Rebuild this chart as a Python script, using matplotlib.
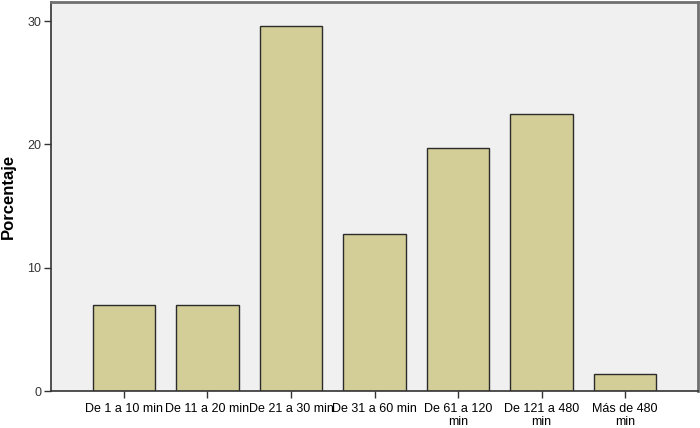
import matplotlib
matplotlib.use("Agg")
import matplotlib.pyplot as plt

# Data
categories = ["De 1 a 10 min", "De 11 a 20 min", "De 21 a 30 min", "De 31 a 60 min",
              "De 61 a 120\nmin", "De 121 a 480\nmin", "Más de 480\nmin"]
porcentaje = [7.0, 7.0, 29.6, 12.7, 19.7, 22.5, 1.4]
yticks = [0, 10, 20, 30]

plt.rcParams['font.family'] = ['Liberation Sans', 'DejaVu Sans']

fig = plt.figure(figsize=(7.0, 4.28), dpi=100, facecolor='white')
ax = fig.add_axes([51 / 700, 37 / 428, 647 / 700, 389 / 428])
ax.set_facecolor('#F0F0F0')

x = list(range(len(categories)))
ax.bar(x, porcentaje, width=0.75, color='#D3CE97', edgecolor='#2B2B2B', linewidth=1.0, zorder=2)

ax.set_xlim(-0.874, len(categories) - 1 + 0.874)
ax.set_ylim(0, 31.55)
ax.set_xticks(x)
ax.set_xticklabels(categories, fontsize=9, linespacing=1.05)
ax.set_yticks(yticks)
ax.set_yticklabels([str(v) for v in yticks], fontsize=9, color='#333333')
ax.tick_params(axis='both', direction='out', length=5, width=1, color='#333333')
ax.tick_params(axis='x', pad=4)
ax.tick_params(axis='y', pad=2)

ax.set_ylabel('Porcentaje', fontsize=12, fontweight='bold', labelpad=8)

for side in ['left', 'bottom']:
    ax.spines[side].set_color('#333333')
    ax.spines[side].set_linewidth(1.2)
for side in ['top', 'right']:
    ax.spines[side].set_color('#707070')
    ax.spines[side].set_linewidth(2)

fig.savefig('out.png', dpi=100, facecolor='white')
